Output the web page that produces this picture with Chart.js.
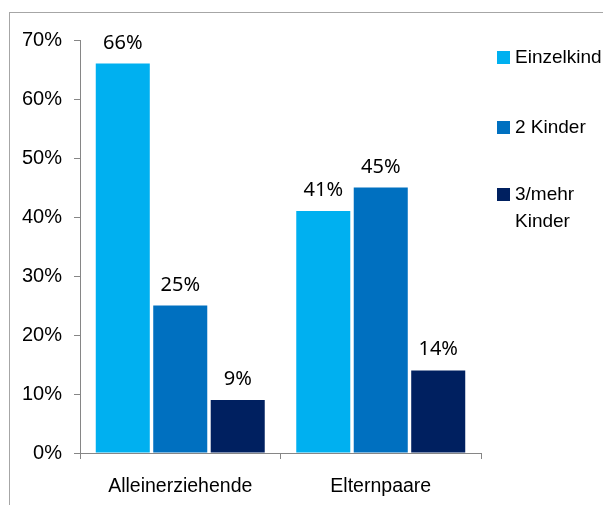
<!DOCTYPE html>
<html>
<head>
<meta charset="utf-8">
<script src="https://cdn.jsdelivr.net/npm/chart.js@4"></script>
<style>
  html, body { margin: 0; padding: 0; background: #fff; }
  #wrap { width: 603px; height: 505px; }
</style>
</head>
<body>
<div id="wrap"><canvas id="chart" width="603" height="505"></canvas></div>
<script>
// Gruppen und Anteile je Kinderzahl (in %)
const categories = ['Alleinerziehende', 'Elternpaare'];
const seriesNames = ['Einzelkind', '2 Kinder', '3/mehr Kinder'];
const einzelkind = [66, 41];
const zweiKinder = [25, 45];
const dreiMehr = [9, 14];
const yTicks = [0, 10, 20, 30, 40, 50, 60, 70];

const colors = ['#00B0F0', '#0070C0', '#002060'];
const axisGray = '#868686';

// grauer Rahmen um die Grafik
const framePlugin = {
    id: 'frame',
    beforeDraw(chart) {
        const c = chart.ctx;
        c.save();
        c.strokeStyle = '#a6a6a6';
        c.lineWidth = 1;
        c.strokeRect(9.5, 12.5, 700, 600);
        c.restore();
    }
};

// Prozentwerte über den Balken
const valueLabels = {
    id: 'valueLabels',
    afterDatasetsDraw(chart) {
        const c = chart.ctx;
        c.save();
        c.font = '20px "Noto Sans"';
        c.fillStyle = '#000';
        c.textAlign = 'center';
        c.textBaseline = 'alphabetic';
        chart.data.datasets.forEach((ds, i) => {
            chart.getDatasetMeta(i).data.forEach((bar, j) => {
                c.fillText(ds.data[j] + '%', bar.x, bar.y - 15);
            });
        });
        c.restore();
    }
};

// Legende rechts, mit Zeilenumbruch bei "3/mehr Kinder"
const sideLegend = {
    id: 'sideLegend',
    afterDraw(chart) {
        const c = chart.ctx;
        const rows = [58, 128, 195];
        c.save();
        c.font = '19px "Liberation Sans"';
        c.textBaseline = 'middle';
        c.textAlign = 'left';
        chart.data.datasets.forEach((ds, i) => {
            const y = rows[i];
            c.fillStyle = ds.backgroundColor;
            c.fillRect(497, y - 7, 13, 13);
            c.fillStyle = '#000';
            const words = ds.label === '3/mehr Kinder' ? ['3/mehr', 'Kinder'] : [ds.label];
            words.forEach((w, k) => c.fillText(w, 515, y + k * 27));
        });
        c.restore();
    }
};

new Chart(document.getElementById('chart'), {
    type: 'bar',
    data: {
        labels: categories,
        datasets: [
            { label: seriesNames[0], data: einzelkind, backgroundColor: colors[0] },
            { label: seriesNames[1], data: zweiKinder, backgroundColor: colors[1] },
            { label: seriesNames[2], data: dreiMehr, backgroundColor: colors[2] }
        ]
    },
    options: {
        responsive: false,
        animation: false,
        layout: { padding: { left: 0, top: 40, right: 122, bottom: 0 } },
        datasets: { bar: { categoryPercentage: 0.86, barPercentage: 0.94 } },
        plugins: { legend: { display: false }, tooltip: { enabled: false } },
        scales: {
            x: {
                afterFit: s => { s.height = 52; },
                border: { color: axisGray, width: 1 },
                grid: { offset: true, drawOnChartArea: false, tickLength: 6, color: axisGray },
                ticks: { color: '#000', padding: 16, font: { family: 'Liberation Sans', size: 19.5 } }
            },
            y: {
                min: 0,
                max: 70,
                afterFit: s => { s.width = 80; },
                afterBuildTicks: s => { s.ticks = yTicks.map(v => ({ value: v })); },
                border: { color: axisGray, width: 1 },
                grid: { drawOnChartArea: false, tickLength: 6, color: axisGray },
                ticks: {
                    color: '#000',
                    padding: 12,
                    font: { family: 'Liberation Sans', size: 20 },
                    callback: v => v + '%'
                }
            }
        }
    },
    plugins: [framePlugin, valueLabels, sideLegend]
});
</script>
</body>
</html>
